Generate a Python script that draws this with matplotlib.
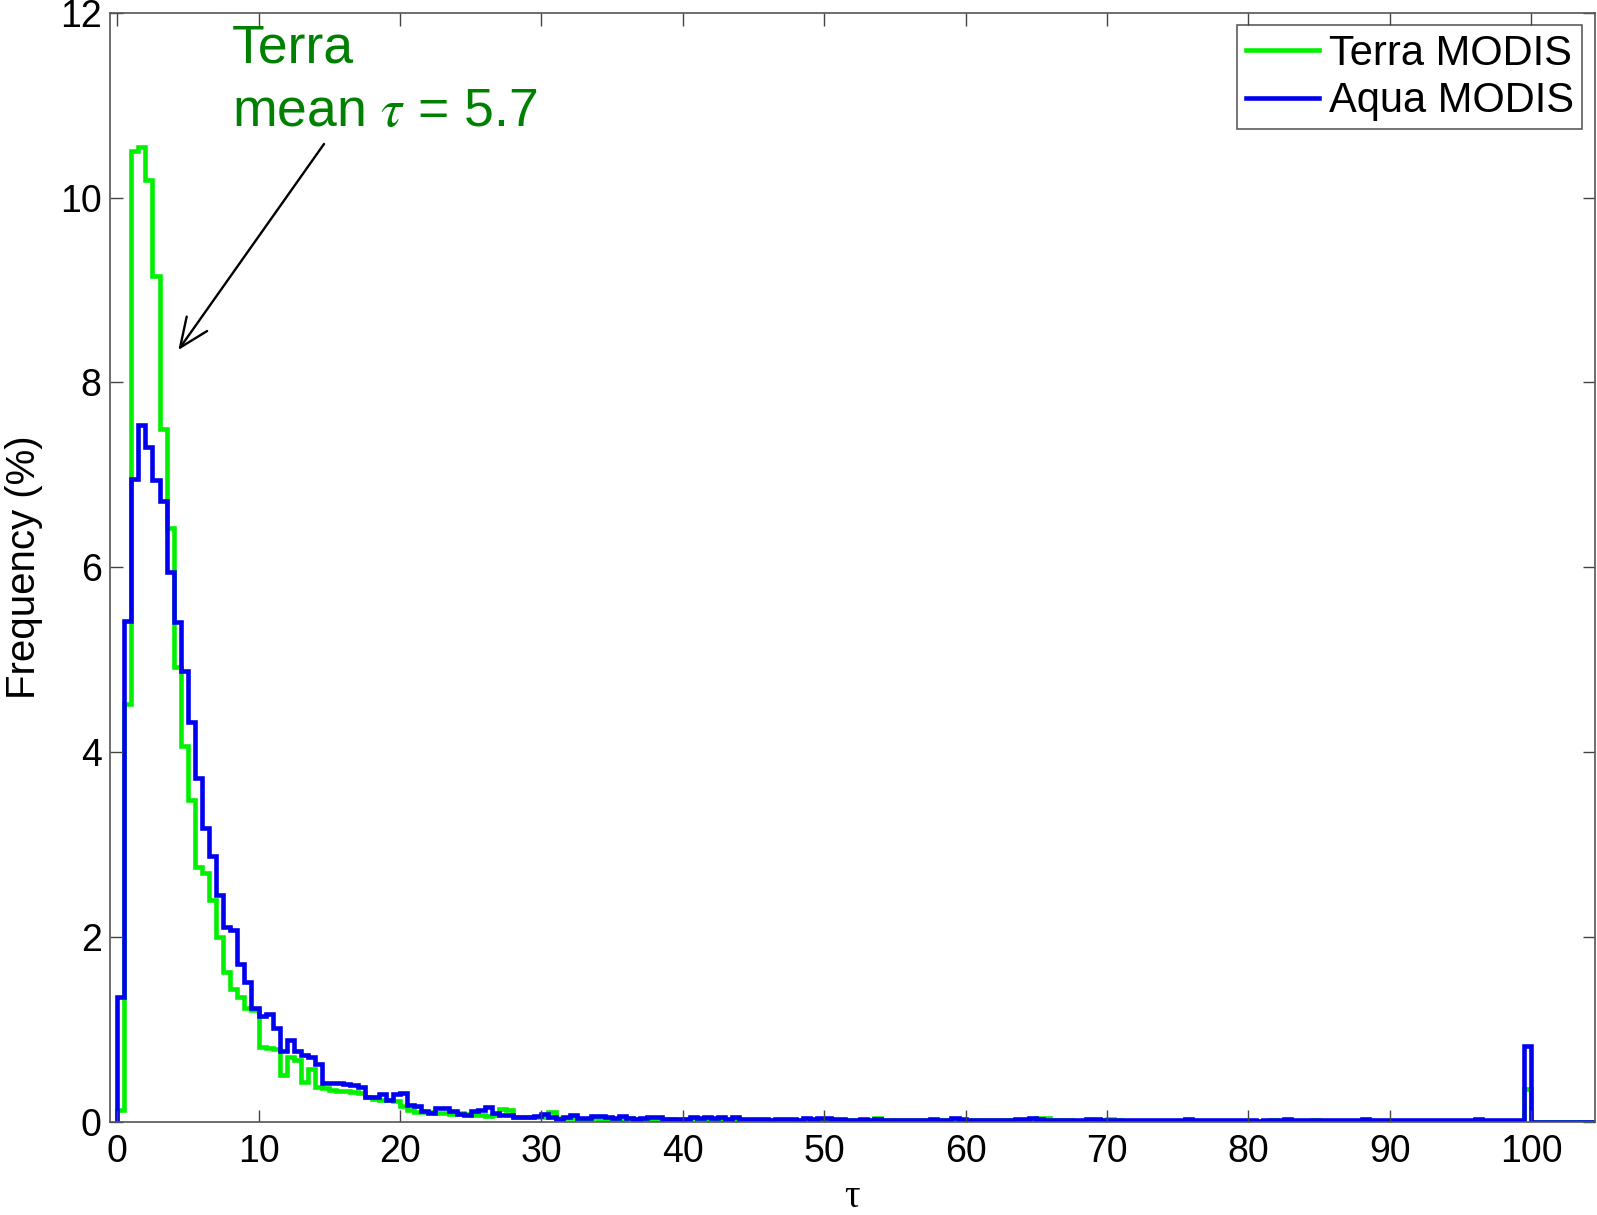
import numpy as np
import matplotlib
matplotlib.use("Agg")
import matplotlib.pyplot as plt
from matplotlib.lines import Line2D

plt.rcParams['font.family'] = ['Liberation Sans', 'DejaVu Sans']
plt.rcParams['mathtext.fontset'] = 'stix'

# Histogram of cloud optical thickness, 0.5-wide bins from 0 to 104.5
bin_width = 0.5
tau_max = 104.5

# Terra MODIS frequency (%) per bin
terra_freq = [
    0.13, 4.52, 10.50, 10.55, 10.19, 9.15, 7.50, 6.42, 4.92, 4.07,
    3.48, 2.76, 2.69, 2.40, 2.00, 1.62, 1.44, 1.35, 1.23, 1.21,
    0.81, 0.80, 0.79, 0.50, 0.70, 0.67, 0.43, 0.57, 0.38, 0.36,
    0.34, 0.33, 0.33, 0.32, 0.31, 0.27, 0.25, 0.24, 0.24, 0.22,
    0.17, 0.13, 0.11, 0.11, 0.11, 0.09, 0.09, 0.08, 0.09, 0.08,
    0.07, 0.07, 0.06, 0.07, 0.14, 0.13, 0.05, 0.05, 0.05, 0.05,
    0.05, 0.11, 0.04,
    0.04, 0.04, 0.03, 0.03, 0.04, 0.03, 0.03,
    0.03, 0.03, 0.04, 0.03, 0.03, 0.03, 0.02, 0.03, 0.03, 0.02,
    0.03, 0.04, 0.03, 0.03, 0.02, 0.03, 0.02, 0.03, 0.02, 0.02,
    0.02, 0.02, 0.02, 0.02, 0.02, 0.02, 0.02, 0.02, 0.02, 0.03,
    0.02, 0.02, 0.02, 0.02, 0.02, 0.02, 0.02, 0.04, 0.02, 0.02,
    0.02, 0.02, 0.02, 0.02, 0.02, 0.02, 0.02, 0.02, 0.02, 0.02,
    0.02, 0.02, 0.02, 0.02, 0.02, 0.02, 0.02, 0.02, 0.02, 0.02,
    0.04, 0.04, 0.02, 0.02, 0.02, 0.01, 0.01, 0.02, 0.02, 0.02,
    0.03, 0.02, 0.01, 0.01, 0.01, 0.01, 0.01, 0.01, 0.01, 0.01,
    0.01, 0.01, 0.01, 0.01, 0.01, 0.01, 0.01, 0.01, 0.01, 0.01,
    0.01, 0.01, 0.01, 0.02, 0.01, 0.01, 0.01, 0.01, 0.01, 0.02,
    0.01, 0.01, 0.01, 0.01, 0.01, 0.01, 0.01, 0.01, 0.01, 0.01,
    0.01, 0.01, 0.01, 0.01, 0.01, 0.01, 0.01, 0.01, 0.01, 0.01,
    0.01, 0.01, 0.02, 0.01, 0.01, 0.01, 0.01, 0.01, 0.01, 0.35,
    0.0, 0.0, 0.0, 0.0, 0.0, 0.0, 0.0, 0.0, 0.0,
]

# Aqua MODIS frequency (%) per bin
aqua_freq = [
    1.35, 5.42, 6.95, 7.54, 7.30, 6.94, 6.72, 5.95, 5.41, 4.88,
    4.32, 3.72, 3.18, 2.88, 2.45, 2.11, 2.07, 1.71, 1.51, 1.23,
    1.14, 1.17, 1.01, 0.76, 0.88, 0.77, 0.72, 0.70, 0.62, 0.42,
    0.42, 0.42, 0.41, 0.40, 0.37, 0.27, 0.27, 0.30, 0.24, 0.30,
    0.31, 0.18, 0.17, 0.12, 0.09, 0.15, 0.15, 0.12, 0.08, 0.07,
    0.12, 0.13, 0.16, 0.09, 0.07, 0.07, 0.05, 0.05, 0.05, 0.06,
    0.08, 0.05, 0.03,
    0.05, 0.07, 0.04, 0.04, 0.06, 0.06, 0.05,
    0.04, 0.06, 0.04, 0.03, 0.04, 0.05, 0.05, 0.03, 0.03, 0.03,
    0.03, 0.05, 0.04, 0.05, 0.04, 0.05, 0.03, 0.05, 0.03, 0.03,
    0.03, 0.03, 0.02, 0.03, 0.03, 0.03, 0.02, 0.04, 0.03, 0.04,
    0.04, 0.03, 0.03, 0.02, 0.02, 0.03, 0.02, 0.03, 0.02, 0.02,
    0.02, 0.02, 0.02, 0.02, 0.02, 0.03, 0.02, 0.02, 0.04, 0.03,
    0.02, 0.02, 0.02, 0.02, 0.02, 0.02, 0.02, 0.03, 0.03, 0.04,
    0.03, 0.02, 0.02, 0.02, 0.02, 0.02, 0.02, 0.03, 0.03, 0.02,
    0.02, 0.02, 0.02, 0.02, 0.02, 0.02, 0.02, 0.02, 0.02, 0.02,
    0.02, 0.03, 0.02, 0.02, 0.02, 0.02, 0.02, 0.02, 0.02, 0.02,
    0.02, 0.01, 0.02, 0.02, 0.02, 0.03, 0.02, 0.02, 0.02, 0.02,
    0.02, 0.02, 0.02, 0.02, 0.02, 0.02, 0.03, 0.02, 0.02, 0.02,
    0.02, 0.02, 0.02, 0.02, 0.02, 0.02, 0.02, 0.02, 0.02, 0.02,
    0.02, 0.02, 0.03, 0.02, 0.02, 0.02, 0.02, 0.02, 0.02, 0.82,
    0.0, 0.0, 0.0, 0.0, 0.0, 0.0, 0.0, 0.0, 0.0,
]

series_labels = ["Terra MODIS", "Aqua MODIS"]
x_ticks = [0, 10, 20, 30, 40, 50, 60, 70, 80, 90, 100]
y_ticks = [0, 2, 4, 6, 8, 10, 12]
terra_mean = 5.7

edges = np.arange(len(terra_freq) + 1) * bin_width

terra_color = '#00f000'
aqua_color = '#0000f0'
line_w = 3.3

fig = plt.figure(figsize=(15.97, 12.15), dpi=100)
ax = fig.add_axes([0.0689, 0.0768, 0.9298, 0.9127])

ax.stairs(terra_freq, edges, baseline=0, color=terra_color, lw=line_w)
ax.stairs(aqua_freq, edges, baseline=0, color=aqua_color, lw=line_w)

ax.set_xlim(-0.5, tau_max)
ax.set_ylim(0, 12)
ax.set_xticks(x_ticks)
ax.set_yticks(y_ticks)

for s in ax.spines.values():
    s.set_color('#555555')
    s.set_linewidth(1.2)
ax.tick_params(direction='in', length=9, width=1.0, color='#444444',
               top=True, right=True, labelsize=27)
ax.tick_params(axis='x', pad=9)
ax.tick_params(axis='y', pad=6)

ax.set_ylabel("Frequency (%)", fontsize=29, labelpad=12)
ax.set_xlabel("τ", fontsize=28, family=['Liberation Serif', 'DejaVu Serif'], labelpad=6)

handles = [Line2D([], [], color=terra_color, lw=line_w),
           Line2D([], [], color=aqua_color, lw=line_w)]
leg = ax.legend(handles, series_labels, loc='upper right', fontsize=30,
                frameon=True, fancybox=False, handlelength=1.75,
                handletextpad=0.25, borderpad=0.2, labelspacing=0.18,
                borderaxespad=0.3)
leg.get_frame().set_edgecolor('#333333')
leg.get_frame().set_linewidth(1.2)

# Annotation for Terra mean
ax.text(8.1, 11.46, "Terra", color='#008000', fontsize=38.5, va='baseline')
ax.text(8.1, 10.77, r"mean $\tau$ = " + f"{terra_mean}", color='#008000',
        fontsize=38.5, va='baseline')
ax.annotate("", xy=(4.33, 8.35), xytext=(14.63, 10.58),
            arrowprops=dict(arrowstyle='->,head_length=0.7,head_width=0.3',
                            color='black', lw=1.7, mutation_scale=30,
                            shrinkA=0, shrinkB=0))

fig.savefig("out.png", dpi=100)
